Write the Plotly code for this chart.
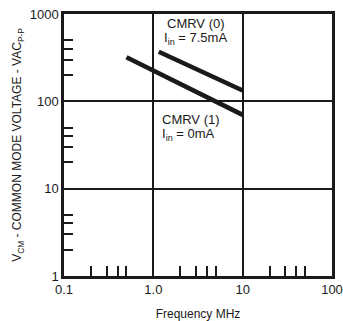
import plotly.graph_objects as go

# Data
freq_cmrv0 = [1.15, 10.0]
volt_cmrv0 = [370, 133]
freq_cmrv1 = [0.5, 10.0]
volt_cmrv1 = [320, 70]

x_major = [0.1, 1, 10, 100]
x_major_text = ["0.1", "1.0", "10", "100"]
y_major = [1, 10, 100, 1000]
y_major_text = ["1", "10", "100", "1000"]
minor_mult = [2, 3, 4, 5]
x_minor = [d * m for d in [0.1, 1, 10] for m in minor_mult]
y_minor = [d * m for d in [1, 10, 100] for m in minor_mult]

ink = "#1a1a1a"
font = "Liberation Sans, Arial, sans-serif"

fig = go.Figure()
fig.add_trace(go.Scatter(x=freq_cmrv0, y=volt_cmrv0, mode="lines",
                         line=dict(color=ink, width=4.5), showlegend=False))
fig.add_trace(go.Scatter(x=freq_cmrv1, y=volt_cmrv1, mode="lines",
                         line=dict(color=ink, width=4.5), showlegend=False))

labels = [
    ("CMRV (0)", 0.135, 2.897),
    ("I<sub>in</sub> = 7.5mA", 0.10, 2.714),
    ("CMRV (1)", 0.07, 1.797),
    ("I<sub>in</sub> = 0mA", 0.08, 1.625),
]
for txt, lx, ly in labels:
    fig.add_annotation(x=lx, y=ly, xref="x", yref="y", text=txt, showarrow=False,
                       xanchor="left", yanchor="middle",
                       font=dict(family=font, size=13, color=ink))

fig.update_layout(
    width=343, height=321,
    margin=dict(l=64, r=11, t=14, b=45),
    paper_bgcolor="white", plot_bgcolor="white",
    font=dict(family=font, size=13, color=ink),
    xaxis=dict(
        type="log", range=[-1, 2], automargin=False,
        tickvals=x_major, ticktext=x_major_text, ticks="",
        showgrid=True, gridcolor=ink, gridwidth=1.5,
        showline=True, linecolor=ink, linewidth=2.5, mirror=True,
        zeroline=False,
        minor=dict(tickvals=x_minor, ticks="inside", ticklen=10,
                   tickcolor=ink, tickwidth=1.5, showgrid=False),
        title=dict(text="Frequency MHz", font=dict(size=12), standoff=14),
        tickfont=dict(size=13),
    ),
    yaxis=dict(
        type="log", range=[0, 3], automargin=False,
        tickvals=y_major, ticktext=y_major_text, ticks="",
        showgrid=True, gridcolor=ink, gridwidth=1.5,
        showline=True, linecolor=ink, linewidth=2.5, mirror=True,
        zeroline=False,
        minor=dict(tickvals=y_minor, ticks="inside", ticklen=9,
                   tickcolor=ink, tickwidth=1.5, showgrid=False),
        title=dict(text="V<sub>CM</sub> - COMMON MODE VOLTAGE - VAC<sub>P-P</sub>",
                   font=dict(size=12), standoff=6),
        tickfont=dict(size=13),
    ),
)

fig.write_html(
    "out.html",
    config={"displayModeBar": False},
    post_script="document.body.style.margin='0';document.body.style.overflow='hidden';",
)
